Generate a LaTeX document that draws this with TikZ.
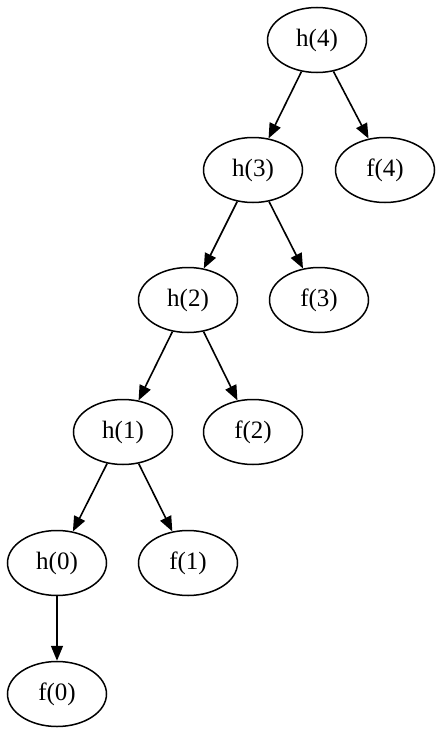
\documentclass[tikz,border=0pt]{standalone}
\usepackage{fontspec}
\setmainfont{Liberation Serif}
\usetikzlibrary{shapes.geometric,arrows.meta}
\begin{document}
\begin{tikzpicture}[x=1pt,y=-1pt,
  nd/.style={draw,ellipse,line width=1.5pt,minimum width=99pt,minimum height=65pt,inner sep=0pt,font=\fontsize{25}{28}\selectfont},
  ed/.style={line width=1.6pt,-{Triangle[length=15pt,width=12pt]}}]
\useasboundingbox (0,0) rectangle (442,736);
\node[nd] (h4) at (317,40) {h(4)};
\node[nd] (h3) at (253,170) {h(3)};
\node[nd] (f4) at (385,170) {f(4)};
\node[nd] (h2) at (188,300) {h(2)};
\node[nd] (f3) at (319,300) {f(3)};
\node[nd] (h1) at (123,432) {h(1)};
\node[nd] (f2) at (253,432) {f(2)};
\node[nd] (h0) at (57,563) {h(0)};
\node[nd] (f1) at (188,563) {f(1)};
\node[nd] (f0) at (57,694) {f(0)};
\draw[ed] (h4) -- (h3);
\draw[ed] (h4) -- (f4);
\draw[ed] (h3) -- (h2);
\draw[ed] (h3) -- (f3);
\draw[ed] (h2) -- (h1);
\draw[ed] (h2) -- (f2);
\draw[ed] (h1) -- (h0);
\draw[ed] (h1) -- (f1);
\draw[ed] (h0) -- (f0);
\end{tikzpicture}
\end{document}
